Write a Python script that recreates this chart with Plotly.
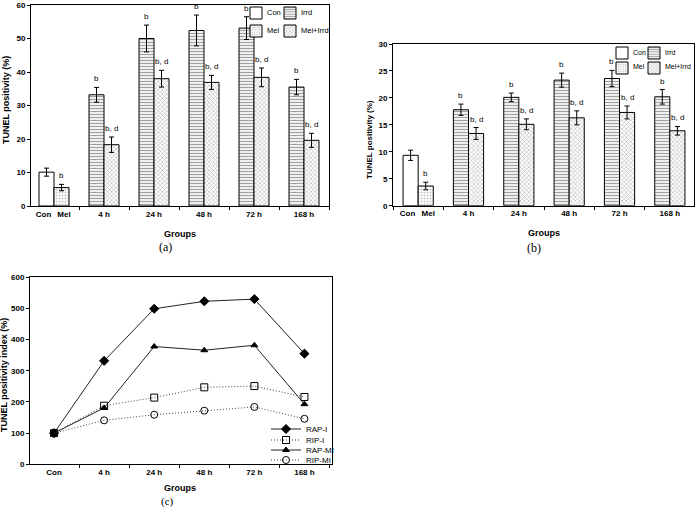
import plotly.graph_objects as go

# ---------------- data ----------------
time_groups = ["4 h", "24 h", "48 h", "72 h", "168 h"]
ctrl_labels = ["Con", "Mel"]
line_categories = ["Con", "4 h", "24 h", "48 h", "72 h", "168 h"]
bar_series = ["Con", "Irrd", "Mel", "Mel+Irrd"]

# panel (a)
a_con = [10.1]
a_con_err = [1.2]
a_mel = [5.5]
a_mel_err = [0.95]
a_irrd = [33.2, 50.0, 52.4, 53.1, 35.5]
a_irrd_err = [2.2, 4.0, 4.6, 3.4, 2.3]
a_mi = [18.3, 38.0, 36.9, 38.4, 19.6]
a_mi_err = [2.3, 2.5, 2.1, 2.8, 2.1]
a_mel_lab = ["b"]
a_irrd_lab = ["b", "b", "b", "b", "b"]
a_mi_lab = ["b, d", "b, d", "b, d", "b, d", "b, d"]

# panel (b)
b_con = [9.35]
b_con_err = [0.95]
b_mel = [3.65]
b_mel_err = [0.7]
b_irrd = [17.8, 20.1, 23.3, 23.6, 20.2]
b_irrd_err = [1.05, 0.8, 1.3, 1.5, 1.35]
b_mi = [13.4, 15.1, 16.3, 17.3, 13.9]
b_mi_err = [1.1, 1.0, 1.3, 1.2, 0.8]
b_mel_lab = ["b"]
b_irrd_lab = ["b", "b", "b", "b", "b"]
b_mi_lab = ["b, d", "b, d", "b, d", "b, d", "b, d"]

# panel (c)
rap_i = [100, 332, 499, 523, 530, 355]
rip_i = [100, 188, 214, 247, 251, 216]
rap_mi = [100, 181, 378, 366, 382, 193]
rip_mi = [100, 141, 159, 172, 184, 146]

FONT = "Liberation Sans"
SERIF = "Liberation Serif"
W, H = 697, 513


def px(v):
    return v / W


def py(v):
    return 1 - v / H


fig = go.Figure()

ctrl_pos = [0]
grp_pos = list(range(1, len(time_groups) + 1))
BW = 0.3

styles = {
    "Con": dict(shape=""),
    "Mel": dict(shape=".", fgcolor="#8a8a8a", bgcolor="white", size=3, solidity=0.35),
    "Irrd": dict(shape="-", fgcolor="#444", bgcolor="white", size=3, solidity=0.45),
    "Mel+Irrd": dict(shape="x", fgcolor="#666", bgcolor="white", size=3, solidity=0.35),
}


def add_bar(name, x, y, err, off, xa, ya, legend):
    # legend swatch only; the label text is placed next to it as an annotation
    fig.add_trace(go.Bar(
        name=" ", x=x, y=y, width=BW, offset=off,
        hovertemplate=name + ": %{y}<extra></extra>",
        marker=dict(color="white", pattern=styles[name], line=dict(color="black", width=1)),
        error_y=dict(type="data", array=err, color="black", thickness=1, width=2.5),
        xaxis=xa, yaxis=ya, legend=legend, showlegend=True,
    ))


def add_labels(x, y, err, labs, off, xa, ya):
    for xi, yi, ei, lab in zip(x, y, err, labs):
        fig.add_annotation(x=xi + off + BW / 2, y=yi + ei, text=lab, xref=xa, yref=ya,
                           showarrow=False, xanchor="center", yanchor="bottom", yshift=2,
                           font=dict(family=FONT, size=8, color="black"))


# panel (a)
add_bar("Con", ctrl_pos, a_con, a_con_err, -BW, "x", "y", "legend")
add_bar("Irrd", grp_pos, a_irrd, a_irrd_err, -BW, "x", "y", "legend2")
add_bar("Mel", ctrl_pos, a_mel, a_mel_err, 0, "x", "y", "legend3")
add_bar("Mel+Irrd", grp_pos, a_mi, a_mi_err, 0, "x", "y", "legend4")
add_labels(ctrl_pos, a_mel, a_mel_err, a_mel_lab, 0, "x", "y")
add_labels(grp_pos, a_irrd, a_irrd_err, a_irrd_lab, -BW, "x", "y")
add_labels(grp_pos, a_mi, a_mi_err, a_mi_lab, 0, "x", "y")

# panel (b)
add_bar("Con", ctrl_pos, b_con, b_con_err, -BW, "x2", "y2", "legend5")
add_bar("Irrd", grp_pos, b_irrd, b_irrd_err, -BW, "x2", "y2", "legend6")
add_bar("Mel", ctrl_pos, b_mel, b_mel_err, 0, "x2", "y2", "legend7")
add_bar("Mel+Irrd", grp_pos, b_mi, b_mi_err, 0, "x2", "y2", "legend8")
add_labels(ctrl_pos, b_mel, b_mel_err, b_mel_lab, 0, "x2", "y2")
add_labels(grp_pos, b_irrd, b_irrd_err, b_irrd_lab, -BW, "x2", "y2")
add_labels(grp_pos, b_mi, b_mi_err, b_mi_lab, 0, "x2", "y2")

# panel (c)
xc = list(range(len(line_categories)))
line_specs = [
    ("RAP-I", rap_i, "diamond", 7, "solid", "legend9"),
    ("RIP-I", rip_i, "square-open", 7, "1px,2px", "legend10"),
    ("RAP-MI", rap_mi, "triangle-up", 6, "solid", "legend11"),
    ("RIP-MI", rip_mi, "circle-open", 7, "1px,2px", "legend12"),
]
for name, ys, sym, size, dash, leg in line_specs:
    fig.add_trace(go.Scatter(
        name=name, x=xc, y=ys, mode="lines+markers",
        line=dict(color="#222" if dash == "solid" else "#444", width=1, dash=dash),
        marker=dict(symbol=sym, size=size, color="black", line=dict(color="black", width=1)),
        xaxis="x3", yaxis="y3", legend=leg,
    ))

tickfont = dict(family=FONT, size=8, color="black")
bold_tick = ["<b>%s</b>" % t for t in ctrl_labels + time_groups]
bar_tickvals = [-0.21, 0.2] + grp_pos

minor_ticks = dict(ticks="outside", ticklen=3, tickcolor="black", tickmode="linear", tick0=-0.5, dtick=1)
xcommon = dict(showgrid=False, zeroline=False, showline=True, linecolor="black", linewidth=1,
               mirror=True, ticks="", tickfont=tickfont, automargin=False, minor=minor_ticks)
ycommon = dict(showgrid=False, zeroline=False, showline=True, linecolor="black", linewidth=1,
               mirror=True, ticks="outside", ticklen=3, tickcolor="black", tickfont=tickfont,
               automargin=False, tickprefix="<b>", ticksuffix="</b>")

fig.update_layout(
    width=W, height=H, margin=dict(l=0, r=0, t=0, b=0, autoexpand=False),
    paper_bgcolor="white", plot_bgcolor="white",
    font=dict(family=FONT, color="black"),
    barmode="overlay",
    xaxis=dict(xcommon, domain=[px(31), px(329)], range=[-0.46, 5.5], anchor="y",
               tickmode="array", tickvals=bar_tickvals, ticktext=bold_tick),
    yaxis=dict(ycommon, domain=[py(206), py(5)], range=[0, 60], dtick=10, anchor="x"),
    xaxis2=dict(xcommon, domain=[px(393), px(694)], range=[-0.5, 5.48], anchor="y2",
                tickmode="array", tickvals=bar_tickvals, ticktext=bold_tick),
    yaxis2=dict(ycommon, domain=[py(205.7), py(44)], range=[0, 30], dtick=5, anchor="x2"),
    xaxis3=dict(xcommon, domain=[px(30), px(332)], range=[-0.48, 5.55], anchor="y3",
                tickmode="array", tickvals=xc, ticktext=["<b>%s</b>" % t for t in line_categories]),
    yaxis3=dict(ycommon, domain=[py(464.3), py(277.3)], range=[0, 600], dtick=100, anchor="x3"),
)

leg_common = dict(font=dict(family=FONT, size=8, color="black"), bgcolor="rgba(0,0,0,0)",
                  itemwidth=30, xanchor="left", yanchor="middle", itemclick=False,
                  itemdoubleclick=False)
# one legend per entry so the 2x2 / stacked layouts of the original can be reproduced
legend_pos = {
    "legend": (236, 13), "legend2": (270, 13), "legend3": (236, 31), "legend4": (270, 31),
    "legend5": (602, 53), "legend6": (634, 53), "legend7": (602, 68), "legend8": (634, 68),
    "legend9": (266, 429), "legend10": (266, 440), "legend11": (266, 450), "legend12": (266, 460),
}
fig.update_layout({k: dict(leg_common, x=px(v[0]), y=py(v[1])) for k, v in legend_pos.items()})

# legend labels for the bar panels
leg_text_pos = [
    ((265, 12, 299, 12, 265, 30, 299, 30), 7.5),
    ((631, 52, 663, 52, 631, 67, 663, 67), 7),
]
for pos, fsize in leg_text_pos:
    for i, name in enumerate(bar_series):
        fig.add_annotation(text=name, x=px(pos[2 * i]), y=py(pos[2 * i + 1]), xref="paper", yref="paper",
                           xanchor="left", yanchor="middle", showarrow=False,
                           font=dict(family=FONT, size=fsize, color="black"))

# axis titles and panel captions
for txt, xg, yg, fs in [("TUNEL positivity (%)", 6, 100, 9), ("TUNEL positivity (%)", 369, 140, 8),
                        ("TUNEL positivity index (%)", 4, 375, 9)]:
    fig.add_annotation(text="<b>%s</b>" % txt, x=px(xg), y=py(yg), xref="paper", yref="paper",
                       xanchor="center", yanchor="middle", textangle=-90, showarrow=False,
                       font=dict(family=FONT, size=fs, color="black"))
for xg, yg in [(180, 234), (544, 233), (180, 488)]:
    fig.add_annotation(text="<b>Groups</b>", x=px(xg), y=py(yg), xref="paper", yref="paper",
                       xanchor="center", yanchor="middle", showarrow=False,
                       font=dict(family=FONT, size=9, color="black"))
for lab, xg, yg, fs in [("(a)", 165, 247, 12), ("(b)", 534, 248, 12), ("(c)", 167, 501, 11)]:
    fig.add_annotation(text=lab, x=px(xg), y=py(yg), xref="paper", yref="paper",
                       xanchor="center", yanchor="middle", showarrow=False,
                       font=dict(family=SERIF, size=fs, color="black"))

# the page's default 8px body margin would otherwise offset the whole figure
fig.write_html("out.html", config={"displayModeBar": False},
               post_script="document.body.style.margin='0px';")
